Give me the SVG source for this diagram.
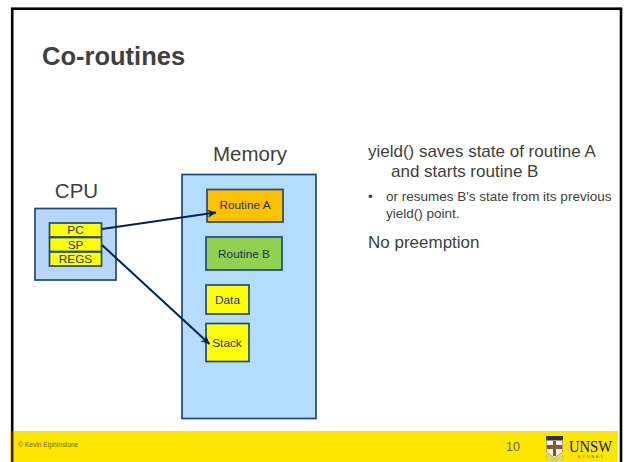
<svg xmlns="http://www.w3.org/2000/svg" width="627" height="462" viewBox="0 0 627 462">
<style>
text{font-family:"Liberation Sans",Arial,sans-serif;fill:#404040}
.box{stroke:#1f497d;stroke-width:1.7}
.lbl{font-size:11.800px;fill:#1f2f55;text-anchor:middle}
.conn{fill:none;stroke:#002060;stroke-width:2}
.body{font-size:17px}
.sub{font-size:13.500px}
.foot{fill:#6b6200}
</style>
<defs>
<marker id="arrow" viewBox="0 0 10 10" refX="9.500" refY="5" markerWidth="10" markerHeight="9" orient="auto" markerUnits="userSpaceOnUse"><path d="M0,0.500L10,5L0,9.500L3,5Z" fill="#002060"/></marker>
</defs>
<rect width="627" height="462" fill="#fff"/>
<rect x="12.200" y="8.700" width="608.800" height="460" fill="none" stroke="#000" stroke-width="2.600"/>
<rect x="10" y="431" width="608" height="31" fill="#ffe600"/>
<rect x="11" y="431" width="2.400" height="31" fill="#2a2600"/>
<text x="42" y="65" font-size="25.500" font-weight="700">Co-routines</text>
<g id="memory">
<text x="250" y="161" font-size="20.500" text-anchor="middle">Memory</text>
<rect class="box" x="182" y="174.500" width="134" height="244" fill="#b3dcff"/>
</g>
<g id="cpu">
<text x="76.500" y="198" font-size="20.500" text-anchor="middle">CPU</text>
<rect class="box" x="35" y="208.500" width="81" height="71.500" fill="#b8d5fb"/>
</g>
<g id="pc"><rect class="box" x="49.500" y="223" width="52" height="14" fill="#ffff00"/><text class="lbl" x="75.500" y="234">PC</text></g>
<g id="sp"><rect class="box" x="49.500" y="237.500" width="52" height="14" fill="#ffff00"/><text class="lbl" x="75.500" y="248.500">SP</text></g>
<g id="regs"><rect class="box" x="49.500" y="252" width="52" height="14" fill="#ffff00"/><text class="lbl" x="75.500" y="263">REGS</text></g>
<g id="routine-a"><rect class="box" x="207" y="189.500" width="76" height="32.500" fill="#ffc000"/><text class="lbl" x="245" y="209">Routine A</text></g>
<g id="routine-b"><rect class="box" x="206" y="237" width="76" height="33" fill="#92d050"/><text class="lbl" x="244" y="258">Routine B</text></g>
<g id="data"><rect class="box" x="206" y="285" width="43" height="29" fill="#ffff00"/><text class="lbl" x="227.500" y="304">Data</text></g>
<g id="stack"><rect class="box" x="206" y="323.500" width="43" height="38" fill="#ffff00"/><text class="lbl" x="227" y="347">Stack</text></g>
<g id="connectors">
<line class="conn" x1="102" y1="229" x2="216" y2="212.500" marker-end="url(#arrow)"/>
<line class="conn" x1="102" y1="245" x2="209.500" y2="344" marker-end="url(#arrow)"/>
</g>
<g id="text">
<text class="body" x="368" y="157">yield() saves state of routine A</text>
<text class="body" x="391" y="177">and starts routine B</text>
<text class="sub" x="368" y="201">•</text>
<text class="sub" x="386" y="201">or resumes B's state from its previous</text>
<text class="sub" x="386" y="218">yield() point.</text>
<text class="body" x="368" y="248">No preemption</text>
</g>
<g id="footer">
<text class="foot" x="18" y="447" font-size="6.700">© Kevin Elphinstone</text>
<text class="foot" x="513" y="451" font-size="12.500" text-anchor="middle">10</text>
<g id="logo">
<rect x="546" y="436" width="17" height="4.500" fill="#333"/>
<path d="M546.500 440.500H562.500V452L554.500 458L546.500 452Z" fill="#fff" stroke="#777" stroke-width="0.600"/>
<path d="M553 441H556V445H562V449H556V456H553V449H547V445H553Z" fill="#c8342c"/>
<circle cx="554.500" cy="447" r="2.800" fill="#6b6a3c"/>
<path d="M546 456Q554.500 463 563 456L563 459Q554.500 463 546 459Z" fill="#dfe3dd" stroke="#888" stroke-width="0.400"/>
<text x="569" y="452" font-size="16" textLength="43" lengthAdjust="spacingAndGlyphs" style="font-family:'Liberation Serif',serif;fill:#111">UNSW</text>
<text x="578" y="457.500" font-size="3.600" textLength="25" style="fill:#333">SYDNEY</text>
</g>
</g>
</svg>
